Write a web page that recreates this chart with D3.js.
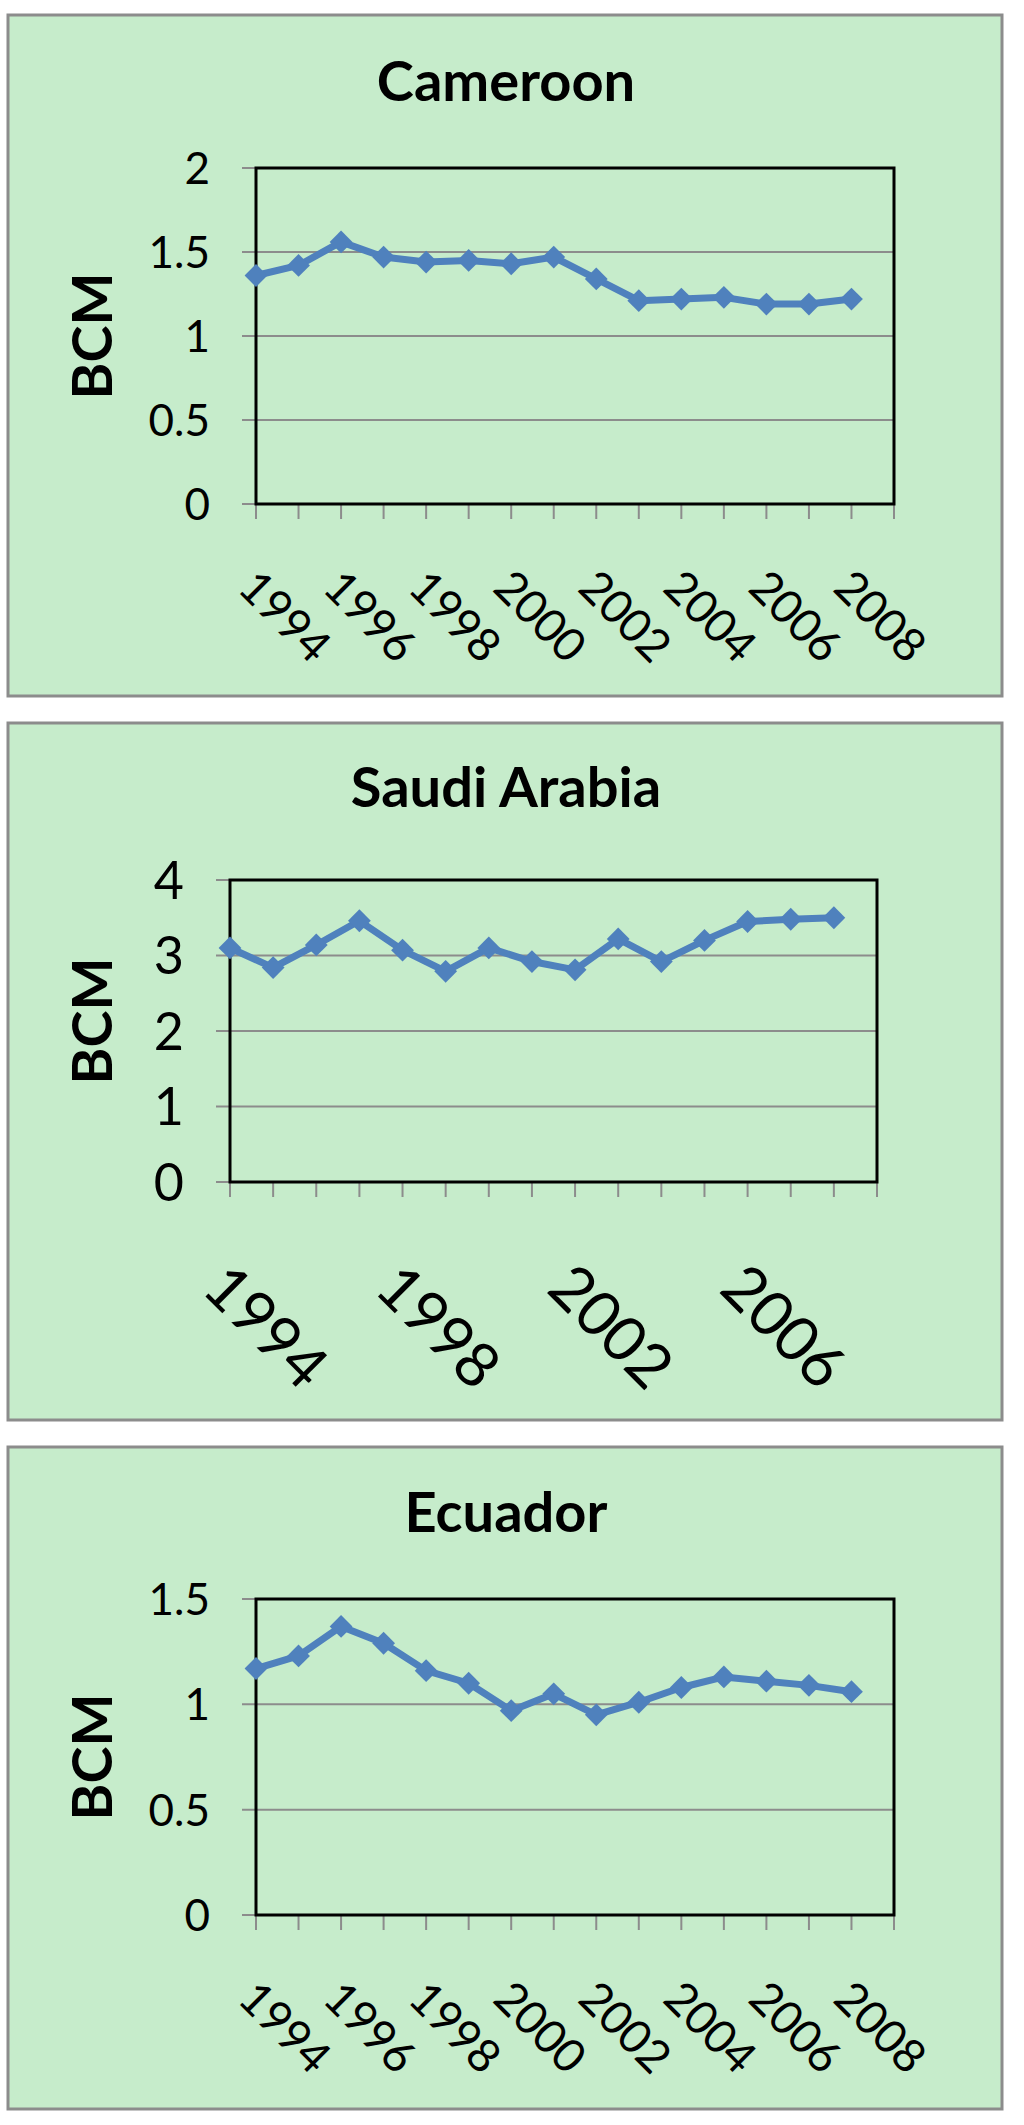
<!DOCTYPE html>
<html><head><meta charset="utf-8">
<script src="https://cdn.jsdelivr.net/npm/d3@7"></script>
<style>body{margin:0;background:#fff}svg{display:block}text{font-family:Lato,"Open Sans",sans-serif}</style>
</head><body>
<script>
const years = [1994,1995,1996,1997,1998,1999,2000,2001,2002,2003,2004,2005,2006,2007,2008];
const titles = ["Cameroon","Saudi Arabia","Ecuador"];
const cameroon = [1.36,1.42,1.56,1.47,1.44,1.45,1.43,1.47,1.34,1.21,1.22,1.23,1.19,1.19,1.22];
const saudi = [3.10,2.84,3.14,3.46,3.07,2.79,3.10,2.92,2.81,3.22,2.92,3.20,3.45,3.48,3.50];
const ecuador = [1.17,1.23,1.37,1.29,1.16,1.10,0.97,1.05,0.95,1.01,1.08,1.13,1.11,1.09,1.06];
const yTicks = [[0,0.5,1,1.5,2],[0,1,2,3,4],[0,0.5,1,1.5]];
const labelYears = [[1994,1996,1998,2000,2002,2004,2006,2008],[1994,1998,2002,2006],[1994,1996,1998,2000,2002,2004,2006,2008]];

const W=1024,H=2125;
const svg=d3.select("body").append("svg").attr("width",W).attr("height",H);
const panels=[
 {data:cameroon,box:[8,15,994,681],plot:[256,168,894,504],ymax:2,titleY:101,tick:44,xl:46,xoff:[-20,86]},
 {data:saudi,box:[8,723,994,697],plot:[230,880,877,1182],ymax:4,titleY:807,tick:52,xl:62,xoff:[-30,109]},
 {data:ecuador,box:[8,1447,994,662],plot:[256,1599,894,1915],ymax:1.5,titleY:1532,tick:44,xl:46,xoff:[-20,86]}
];
panels.forEach((p,i)=>{
  const g=svg.append("g");
  g.append("rect").attr("x",p.box[0]).attr("y",p.box[1]).attr("width",p.box[2]).attr("height",p.box[3])
   .attr("fill","#C6ECCB").attr("stroke","#8c8c8c").attr("stroke-width",3);
  g.append("text").attr("x",506).attr("y",p.titleY).attr("text-anchor","middle")
   .attr("font-size",56).attr("font-weight","bold").attr("fill","#000").text(titles[i]);
  const [x0,y0,x1,y1]=p.plot;
  const x=d3.scaleLinear().domain([0,15]).range([x0,x1]);
  const y=d3.scaleLinear().domain([0,p.ymax]).range([y1,y0]);
  g.selectAll(".grid").data(yTicks[i]).join("line")
   .attr("x1",x0-14).attr("x2",x1).attr("y1",d=>y(d)).attr("y2",d=>y(d))
   .attr("stroke","#8c8c8c").attr("stroke-width",2);
  g.selectAll(".yl").data(yTicks[i]).join("text")
   .attr("x",x0-46).attr("y",d=>y(d)).attr("dy","0.36em").attr("text-anchor","end")
   .attr("font-size",p.tick).attr("fill","#000").text(d=>d);
  g.selectAll(".xt").data(d3.range(16)).join("line")
   .attr("x1",d=>x(d)).attr("x2",d=>x(d)).attr("y1",y1).attr("y2",y1+15)
   .attr("stroke","#8c8c8c").attr("stroke-width",2);
  g.append("rect").attr("x",x0).attr("y",y0).attr("width",x1-x0).attr("height",y1-y0)
   .attr("fill","none").attr("stroke","#000").attr("stroke-width",3);
  g.selectAll(".xl").data(labelYears[i]).join("text")
   .attr("transform",d=>`translate(${x(years.indexOf(d))+p.xoff[0]},${y1+p.xoff[1]}) rotate(45)`)
   .attr("font-size",p.xl).attr("fill","#000").text(d=>d);
  g.append("text").attr("transform",`translate(112,${(y0+y1)/2+ (i==1?-10:0)}) rotate(-90)`)
   .attr("text-anchor","middle").attr("font-size",56).attr("font-weight","bold").attr("fill","#000").text("BCM");
  g.append("path").datum(p.data).attr("fill","none").attr("stroke","#4F81BD").attr("stroke-width",7)
   .attr("stroke-linejoin","round")
   .attr("d",d3.line().x((d,j)=>x(j)).y(d=>y(d)));
  g.selectAll(".pt").data(p.data).join("path")
   .attr("transform",(d,j)=>`translate(${x(j)},${y(d)}) rotate(45)`)
   .attr("d",d3.symbol(d3.symbolSquare,260)).attr("fill","#4F81BD");
});
</script>
</body></html>
